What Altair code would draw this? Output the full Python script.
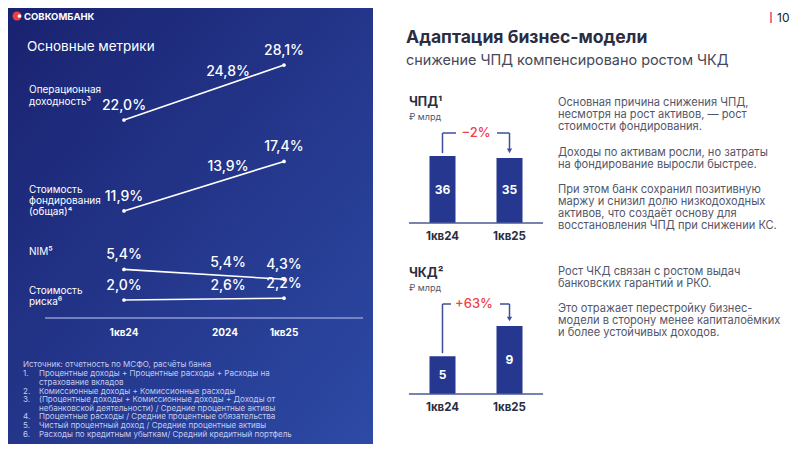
import altair as alt
import pandas as pd

# ---------------- data ----------------
periods = ["1кв24", "2024", "1кв25"]
metric_keys = ["op", "fund", "nim", "cor"]
op_yield = [22.0, 24.8, 28.1]
funding_cost = [11.9, 13.9, 17.4]
nim = [5.4, 5.4, 4.3]
cost_of_risk = [2.0, 2.6, 2.2]

bar_periods = ["1кв24", "1кв25"]
nii = [36, 35]          # ЧПД, ₽ млрд
nii_change = "−2%"
nci = [5, 9]            # ЧКД, ₽ млрд
nci_change = "+63%"

# ---------------- layout helpers ----------------
OFF = 8  # page margin
W, H = 784, 436
FONT = "Inter"


def P(v):
    return v - OFF


series = {"op": op_yield, "fund": funding_cost, "nim": nim, "cor": cost_of_risk}

# left panel scales
x_pos = [P(124), P(225), P(284)]
xs = alt.Scale(domain=[0, 1, 2], range=x_pos)
ys = alt.Scale(domain=[0, 30], range=[P(318), P(48)])
frac_mid = (x_pos[1] - x_pos[0]) / (x_pos[2] - x_pos[0])


def fmt(v):
    return f"{v:.1f}".replace(".", ",") + "%"


rows_end, rows_mid = [], []
for k in metric_keys:
    vals = series[k]
    for i in (0, 2):
        rows_end.append({"m": k, "idx": i, "v": vals[i], "lab": fmt(vals[i])})
    anchor = vals[0] + (vals[2] - vals[0]) * frac_mid
    rows_mid.append({"m": k, "idx": 1, "v": anchor, "lab": fmt(vals[1])})
df_end = pd.DataFrame(rows_end)
df_mid = pd.DataFrame(rows_mid)
df_periods = pd.DataFrame({"idx": [0, 1, 2], "p": periods})

one = pd.DataFrame({"a": [0]})


def texts(items, align="left", color="white", size=10, weight="normal", font=FONT):
    df = pd.DataFrame([{"px": P(x), "py": P(y), "t": t} for x, y, t in items])
    return alt.Chart(df).mark_text(
        align=align, baseline="middle", color=color, fontSize=size,
        fontWeight=weight, font=font
    ).encode(
        x=alt.X("px:Q", scale=None, axis=None),
        y=alt.Y("py:Q", scale=None, axis=None),
        text="t:N",
    )


layers = []

# ---- blue panel ----
grad = alt.Gradient(
    gradient="linear",
    stops=[alt.GradientStop(offset=0, color="#1a2270"),
           alt.GradientStop(offset=1, color="#2d4aa5")],
    x1=0, y1=0, x2=1, y2=1,
)
layers.append(alt.Chart(one).mark_rect(fill=grad).encode(
    x=alt.value(0), x2=alt.value(P(373)), y=alt.value(0), y2=alt.value(H)))

# logo
layers.append(alt.Chart(one).mark_point(filled=True, color="#ef3e42", size=80, opacity=1).encode(
    x=alt.value(P(17)), y=alt.value(P(16))))
layers.append(alt.Chart(one).mark_point(filled=True, color="white", size=14, opacity=1).encode(
    x=alt.value(P(19.5)), y=alt.value(P(16))))
layers.append(texts([(24, 16.5, "СОВКОМБАНК")], size=9.5, weight="bold"))
layers.append(texts([(27, 47, "Основные метрики")], size=13.5))

# row labels
layers.append(texts([
    (29, 90, "Операционная"), (29, 102, "доходность³"),
    (29, 190, "Стоимость"), (29, 201, "фондирования"), (29, 212, "(общая)⁴"),
    (29, 252, "NIM⁵"),
    (29, 291, "Стоимость"), (29, 302, "риска⁶"),
], size=10))

# baseline
layers.append(alt.Chart(one).mark_rule(color="#8e9bd3", strokeWidth=1.5).encode(
    y=alt.Y(datum=0, scale=ys, axis=None), x=alt.value(P(45)), x2=alt.value(P(363))))

# lines
layers.append(alt.Chart(df_end).mark_line(color="white", strokeWidth=1.6).encode(
    x=alt.X("idx:Q", scale=xs, axis=None),
    y=alt.Y("v:Q", scale=ys, axis=None),
    detail="m:N"))
layers.append(alt.Chart(df_end).mark_circle(color="white", size=14, opacity=1).encode(
    x=alt.X("idx:Q", scale=xs, axis=None),
    y=alt.Y("v:Q", scale=ys, axis=None)))
layers.append(alt.Chart(df_end).mark_text(
    color="white", fontSize=14, font=FONT, fontWeight=500, dy=-14, baseline="middle"
).encode(
    x=alt.X("idx:Q", scale=xs, axis=None),
    y=alt.Y("v:Q", scale=ys, axis=None),
    text="lab:N"))
layers.append(alt.Chart(df_mid).mark_text(
    color="white", fontSize=14, font=FONT, fontWeight=500, dy=-13, dx=3, baseline="middle"
).encode(
    x=alt.X("idx:Q", scale=xs, axis=None),
    y=alt.Y("v:Q", scale=ys, axis=None),
    text="lab:N"))
layers.append(alt.Chart(df_periods).mark_text(
    color="white", fontSize=10, font=FONT, fontWeight="bold", baseline="middle"
).encode(
    x=alt.X("idx:Q", scale=xs, axis=None),
    y=alt.value(P(333)),
    text="p:N"))

# footnotes
fn_col = "#c3cbef"
layers.append(texts([(23, 365, "Источник: отчетность по МСФО, расчёты банка")], size=8, color=fn_col))
layers.append(texts([
    (23, 374, "1."), (23, 391.5, "2."), (23, 400, "3."), (23, 417, "4."),
    (23, 425.5, "5."), (23, 434.5, "6."),
], size=8, color=fn_col))
layers.append(texts([
    (39, 374, "Процентные доходы + Процентные расходы + Расходы на"),
    (39, 382.5, "страхование вкладов"),
    (39, 391.5, "Комиссионные доходы + Комиссионные расходы"),
    (39, 400, "(Процентные доходы + Комиссионные доходы + Доходы от"),
    (39, 408.5, "небанковской деятельности) / Средние процентные активы"),
    (39, 417, "Процентные расходы / Средние процентные обязательства"),
    (39, 425.5, "Чистый процентный доход / Средние процентные активы"),
    (39, 434.5, "Расходы по кредитным убыткам/ Средний кредитный портфель"),
], size=8, color=fn_col))

# ---- right side ----
DARK = "#2b2d42"
GRAY = "#53566a"
NAVY = "#25378f"
BRK = "#3f4f9b"
RED = "#f0424a"

layers.append(alt.Chart(one).mark_rule(color=RED, strokeWidth=1.5).encode(
    x=alt.value(P(771)), y=alt.value(P(12)), y2=alt.value(P(23))))
layers.append(texts([(777, 17.5, "10")], size=12, color="#222222"))
layers.append(texts([(406, 38, "Адаптация бизнес-модели")], size=17.6, weight="bold", color=DARK))
layers.append(texts([(406, 61, "снижение ЧПД компенсировано ростом ЧКД")], size=14.4, color="#454858"))

bx = alt.Scale(domain=bar_periods, range=[P(409), P(543)], paddingInner=0.612, paddingOuter=0.306)


def bar_block(vals, change, y_dom, y_rng, base_y, brk_y, seg_l, seg_r, lab_x, title, title_y):
    ysc = alt.Scale(domain=y_dom, range=y_rng)
    df = pd.DataFrame({"p": bar_periods, "v": vals})
    out = []
    out.append(texts([(409, title_y, title)], size=12.5, weight="bold", color=DARK))
    out.append(texts([(409, title_y + 15, "₽ млрд")], size=9, color=GRAY))
    out.append(alt.Chart(df).mark_bar(color=NAVY).encode(
        x=alt.X("p:N", scale=bx, axis=None),
        y=alt.Y("v:Q", scale=ysc, axis=None)))
    out.append(alt.Chart(one).mark_rule(color="#4b5a99", strokeWidth=1.5).encode(
        y=alt.Y(datum=0, scale=ysc, axis=None), x=alt.value(P(409)), x2=alt.value(P(543))))
    out.append(alt.Chart(df).transform_calculate(mid="datum.v / 2").mark_text(
        color="white", fontSize=12, fontWeight="bold", font=FONT, baseline="middle").encode(
        x=alt.X("p:N", scale=bx, axis=None),
        y=alt.Y("mid:Q", scale=ysc, axis=None),
        text="v:Q"))
    out.append(alt.Chart(df).mark_text(
        color=DARK, fontSize=11.5, fontWeight="bold", font=FONT, baseline="middle").encode(
        x=alt.X("p:N", scale=bx, axis=None),
        y=alt.value(P(base_y + 14)),
        text="p:N"))
    first = df.iloc[[0]]
    last = df.iloc[[1]]
    out.append(alt.Chart(first).mark_rule(color=BRK, strokeWidth=1.5, yOffset=-3).encode(
        x=alt.X("p:N", scale=bx, axis=None),
        y=alt.Y("v:Q", scale=ysc, axis=None),
        y2=alt.value(P(brk_y))))
    out.append(alt.Chart(first).mark_rule(color=BRK, strokeWidth=1.5).encode(
        x=alt.X("p:N", scale=bx, axis=None), x2=alt.value(P(seg_l)),
        y=alt.value(P(brk_y))))
    out.append(alt.Chart(last).mark_rule(color=BRK, strokeWidth=1.5).encode(
        x=alt.X("p:N", scale=bx, axis=None), x2=alt.value(P(seg_r)),
        y=alt.value(P(brk_y))))
    out.append(alt.Chart(last).mark_rule(color=BRK, strokeWidth=1.5, yOffset=-9).encode(
        x=alt.X("p:N", scale=bx, axis=None),
        y=alt.Y("v:Q", scale=ysc, axis=None),
        y2=alt.value(P(brk_y))))
    out.append(alt.Chart(last).mark_point(shape="triangle-down", filled=True, color=BRK,
                                          size=28, opacity=1, yOffset=-7).encode(
        x=alt.X("p:N", scale=bx, axis=None),
        y=alt.Y("v:Q", scale=ysc, axis=None)))
    out.append(texts([(lab_x, brk_y, change)], align="center", size=13, weight=500, color=RED))
    return out


layers += bar_block(nii, nii_change, [0, 40], [P(223), P(223) - 40 * 1.86],
                    223, 133, 456, 497, 476, "ЧПД¹", 102)
layers += bar_block(nci, nci_change, [0, 10], [P(394), P(394) - 10 * 7.56],
                    394, 304, 451, 500, 474, "ЧКД²", 273)

par = [
    (103, "Основная причина снижения ЧПД,"),
    (115, "несмотря на рост активов, — рост"),
    (126.5, "стоимости фондирования."),
    (153, "Доходы по активам росли, но затраты"),
    (164.5, "на фондирование выросли быстрее."),
    (190, "При этом банк сохранил позитивную"),
    (202, "маржу и снизил долю низкодоходных"),
    (214, "активов, что создаёт основу для"),
    (226, "восстановления ЧПД при снижении КС."),
    (272, "Рост ЧКД связан с ростом выдач"),
    (284, "банковских гарантий и РКО."),
    (309, "Это отражает перестройку бизнес-"),
    (321, "модели в сторону менее капиталоёмких"),
    (333, "и более устойчивых доходов."),
]
layers.append(texts([(558, y, t) for y, t in par], size=11.1, color=GRAY))

chart = alt.layer(*layers).resolve_scale(
    x="independent", y="independent"
).properties(
    width=W, height=H, padding=0, autosize=alt.AutoSizeParams(type="none"),
    background="white",
).configure_view(stroke=None)

chart.save("out.html", embed_options={"renderer": "svg", "actions": False})
